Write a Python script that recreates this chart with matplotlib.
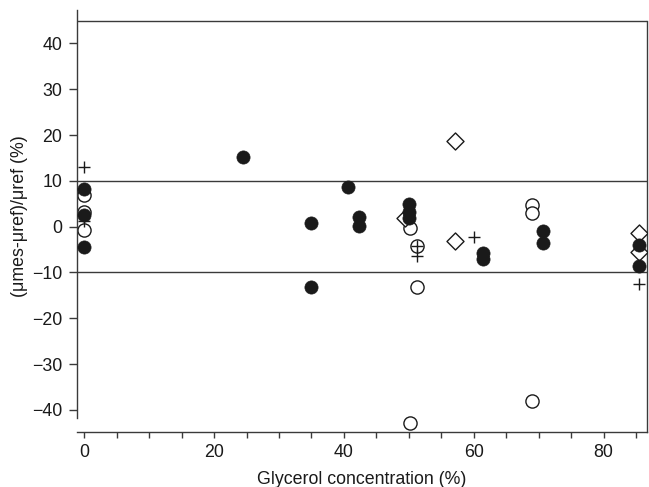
import matplotlib
matplotlib.use("Agg")
import matplotlib.pyplot as plt

plt.rcParams["font.family"] = ["Liberation Sans", "DejaVu Sans"]

INK = "#1a1a1a"
LINE = "#3a3a3a"

# filled circles
filled_x = [0, 0, 0, 24.5, 35, 35, 40.6, 42.4, 42.4, 50, 50, 50, 61.4, 61.4, 70.6, 70.6, 85.5, 85.5]
filled_y = [8.2, 2.6, -4.4, 15.1, 0.7, -13.2, 8.6, 2.2, 0.2, 5.0, 3.3, 1.8, -5.8, -7.1, -0.9, -3.6, -4.0, -8.6]

# open circles
open_x = [0, 0, 0, 50.2, 51.2, 51.2, 50.2, 69, 69, 69]
open_y = [6.9, 3.3, -0.7, -0.4, -4.3, -13.2, -42.9, 4.7, 2.9, -38.0]

# open diamonds
diam_x = [49.4, 57.1, 57.1, 85.5, 85.5]
diam_y = [2.0, 18.6, -3.1, -1.3, -5.5]

# plus signs
plus_x = [0, 0, 51.2, 51.2, 60.1, 85.5]
plus_y = [13.0, 1.2, -4.3, -6.4, -2.2, -12.6]

limits_y = [-10, 10, 44.8]
y_ticks = [-40, -30, -20, -10, 0, 10, 20, 30, 40]
x_ticks = [0, 20, 40, 60, 80]
x_minor = [5, 10, 15, 25, 30, 35, 45, 50, 55, 65, 70, 75, 85]

FS = 12.8

fig = plt.figure(figsize=(6.49, 4.87), dpi=100)
ax = fig.add_axes([76.7 / 649, 55.3 / 487, 570.3 / 649, 421.7 / 487])

ax.set_xlim(-1.17, 86.7)
ax.set_ylim(-44.76, 47.3)

for y in limits_y:
    ax.axhline(y, color=LINE, lw=1.0, zorder=1)

ax.scatter(open_x, open_y, s=90, facecolors="white", edgecolors=INK, linewidths=1.0, zorder=2)
ax.scatter(diam_x, diam_y, s=75, marker="D", facecolors="white", edgecolors=INK, linewidths=1.0, zorder=3)
ax.scatter(plus_x, plus_y, s=85, marker="+", color=INK, linewidths=1.0, zorder=4)
ax.scatter(filled_x, filled_y, s=90, color=INK, edgecolors=INK, linewidths=0.5, zorder=5)

ax.spines["top"].set_visible(False)
ax.spines["left"].set_bounds(-41.8, 47.3)
ax.spines["right"].set_bounds(-44.76, 44.8)
for side in ("left", "right", "bottom"):
    ax.spines[side].set_color(LINE)
    ax.spines[side].set_linewidth(1.0)

ax.set_yticks(y_ticks)
ax.set_yticklabels([f"{t}".replace("-", "\u2212") for t in y_ticks])
ax.set_xticks(x_ticks)
ax.set_xticks(x_minor, minor=True)
ax.tick_params(axis="y", direction="out", length=6, width=1.0, color=LINE,
               labelsize=FS, pad=4.5, labelcolor=INK)
ax.tick_params(axis="x", which="both", direction="out", length=4, width=1.0,
               color=LINE, labelsize=FS, pad=5, labelcolor=INK)

ax.set_xlabel("Glycerol concentration (%)", fontsize=FS, color=INK, labelpad=7)
ax.set_ylabel("(\u03bcmes-\u03bcref)/\u03bcref (%)", fontsize=FS, color=INK)
ax.yaxis.set_label_coords(-0.085, 0.512)

fig.savefig("out.png", dpi=100)
